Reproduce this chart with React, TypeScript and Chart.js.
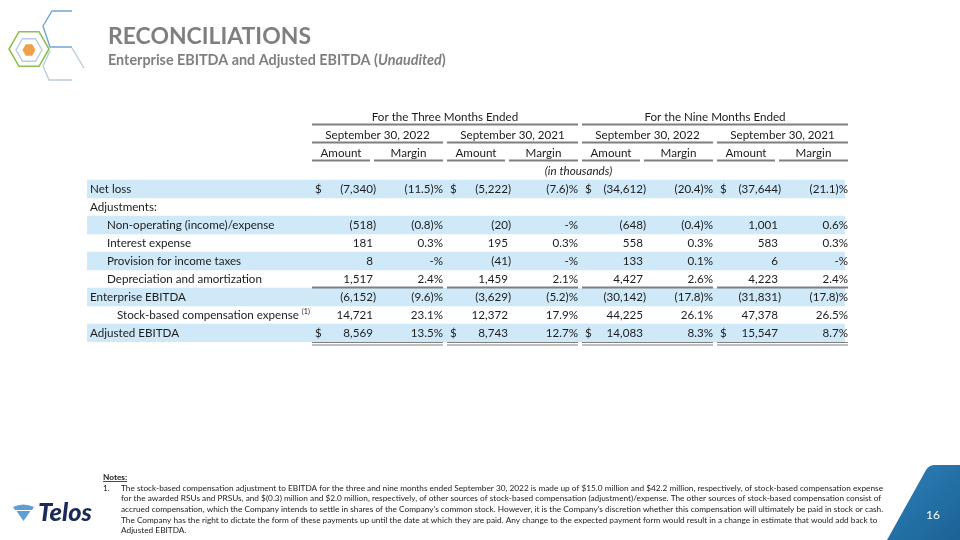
import { useEffect, useRef } from "react";
import { Chart, registerables } from "chart.js";

Chart.register(...registerables);

// ---------- DATA ----------
const TITLE = "RECONCILIATIONS";
const SUBTITLE_MAIN = "Enterprise EBITDA and Adjusted EBITDA (";
const SUBTITLE_ITALIC = "Unaudited";
const SUBTITLE_END = ")";
const PERIOD_HEADERS = ["For the Three Months Ended", "For the Nine Months Ended"];
const DATE_HEADERS = ["September 30, 2022", "September 30, 2021", "September 30, 2022", "September 30, 2021"];
const SUB_HEADERS = ["Amount", "Margin"];
const UNIT_NOTE = "(in thousands)";
const HEADER_ROWS = ["period", "date", "sub", "unit"];
const LINE_ITEMS = [
  "Net loss",
  "Adjustments:",
  "Non-operating (income)/expense",
  "Interest expense",
  "Provision for income taxes",
  "Depreciation and amortization",
  "Enterprise EBITDA",
  "Stock-based compensation expense",
  "Adjusted EBITDA",
];
const FOOTNOTE_MARK = "(1)";
const FOOTNOTE_ROW = 7;
const DOLLAR_ROWS = [0, 8];

// amounts in thousands, margins in percent (null = blank)
const AMT_3M_2022 = [-7340, null, -518, 181, 8, 1517, -6152, 14721, 8569];
const MRG_3M_2022 = [-11.5, null, -0.8, 0.3, 0, 2.4, -9.6, 23.1, 13.5];
const AMT_3M_2021 = [-5222, null, -20, 195, -41, 1459, -3629, 12372, 8743];
const MRG_3M_2021 = [-7.6, null, 0, 0.3, 0, 2.1, -5.2, 17.9, 12.7];
const AMT_9M_2022 = [-34612, null, -648, 558, 133, 4427, -30142, 44225, 14083];
const MRG_9M_2022 = [-20.4, null, -0.4, 0.3, 0.1, 2.6, -17.8, 26.1, 8.3];
const AMT_9M_2021 = [-37644, null, 1001, 583, 6, 4223, -31831, 47378, 15547];
const MRG_9M_2021 = [-21.1, null, 0.6, 0.3, 0, 2.4, -17.8, 26.5, 8.7];

const NOTES_TITLE = "Notes:";
const NOTE_LINES = [
  "The stock-based compensation adjustment to EBITDA for the three and nine months ended September 30, 2022 is made up of $15.0 million and $42.2 million, respectively, of stock-based compensation expense",
  "for the awarded RSUs and PRSUs, and $(0.3) million and $2.0 million, respectively, of other sources of stock-based compensation (adjustment)/expense. The other sources of stock-based compensation consist of",
  "accrued compensation, which the Company intends to settle in shares of the Company's common stock. However, it is the Company's discretion whether this compensation will ultimately be paid in stock or cash.",
  "The Company has the right to dictate the form of these payments up until the date at which they are paid. Any change to the expected payment form would result in a change in estimate that would add back to",
  "Adjusted EBITDA.",
];
const BRAND = "Telos";
const PAGE_NUMBER = "16";

// ---------- LAYOUT / STYLE ----------
const FONT = "Lato, 'Open Sans', sans-serif";
const TABLE_W = 758;
const GROUP_STARTS = [225, 360, 495, 630];
const GROUP_W = 131;
const INDENT = [0, 0, 1, 1, 1, 1, 0, 2, 0];
const SHADED = [true, false, true, false, true, false, true, false, true];
const BAND = "#cfe9f9";
const RULE = "#7f7f7f";
const TEXT = "#1c1c1c";

const fmtAmt = (v: number) => {
  const s = Math.abs(v).toLocaleString("en-US");
  return v < 0 ? `(${s})` : s;
};
const fmtMrg = (v: number) => {
  if (v === 0) return "-%";
  const s = Math.abs(v).toFixed(1);
  return v < 0 ? `(${s})%` : `${s}%`;
};

const fitSize = (ctx: CanvasRenderingContext2D, text: string, pre: string, target: number) => {
  ctx.font = `${pre} 20px ${FONT}`;
  const w = ctx.measureText(text).width;
  return (20 * target) / w;
};

const slidePlugin = {
  id: "slide",
  afterDatasetsDraw(chart: any) {
    const ctx: CanvasRenderingContext2D = chart.ctx;
    const xs = chart.scales.x;
    const ys = chart.scales.y;
    const X = (u: number) => xs.getPixelForValue(u);
    const Y = (i: number) => ys.getPixelForValue(i);
    const rowH = Y(1) - Y(0);
    const bottom = (i: number) => Y(i) + rowH / 2;
    const groups = [AMT_3M_2022, AMT_3M_2021, AMT_9M_2022, AMT_9M_2021];
    const margins = [MRG_3M_2022, MRG_3M_2021, MRG_9M_2022, MRG_9M_2021];

    ctx.save();
    // ----- top-left logo -----
    const hex = (cx: number, cy: number, r: number) => {
      ctx.beginPath();
      for (let k = 0; k < 6; k++) {
        const a = (Math.PI / 3) * k;
        const px = cx + r * Math.cos(a);
        const py = cy + r * Math.sin(a);
        if (k === 0) ctx.moveTo(px, py);
        else ctx.lineTo(px, py);
      }
      ctx.closePath();
    };
    ctx.lineWidth = 1.6;
    ctx.strokeStyle = "#8cc04f";
    hex(29, 49, 20);
    ctx.stroke();
    ctx.strokeStyle = "#b9cbdd";
    ctx.lineWidth = 1.4;
    hex(29, 50, 13);
    ctx.stroke();
    ctx.fillStyle = "#f0a04b";
    hex(29, 50, 6.5);
    ctx.fill();
    ctx.strokeStyle = "#6fa6d6";
    ctx.lineWidth = 1.4;
    ctx.beginPath();
    ctx.moveTo(72, 11);
    ctx.lineTo(52, 11);
    ctx.lineTo(43, 26);
    ctx.lineTo(50, 47);
    ctx.lineTo(72, 47);
    ctx.stroke();
    ctx.strokeStyle = "#b9cbdd";
    ctx.beginPath();
    ctx.moveTo(72, 48);
    ctx.lineTo(84, 68);
    ctx.stroke();
    ctx.beginPath();
    ctx.moveTo(50, 51);
    ctx.lineTo(43, 66);
    ctx.lineTo(49, 80);
    ctx.lineTo(72, 80);
    ctx.stroke();

    // ----- title -----
    ctx.fillStyle = "#7f7f7f";
    ctx.textBaseline = "alphabetic";
    ctx.textAlign = "left";
    const ts = fitSize(ctx, TITLE, "bold", 203);
    ctx.font = `bold ${ts}px ${FONT}`;
    ctx.fillText(TITLE, 108, 44);
    const full = SUBTITLE_MAIN + SUBTITLE_ITALIC + SUBTITLE_END;
    const ss = fitSize(ctx, full, "bold", 341);
    let sx = 108;
    ctx.font = `bold ${ss}px ${FONT}`;
    ctx.fillText(SUBTITLE_MAIN, sx, 65);
    sx += ctx.measureText(SUBTITLE_MAIN).width;
    ctx.font = `italic bold ${ss}px ${FONT}`;
    ctx.fillText(SUBTITLE_ITALIC, sx, 65);
    sx += ctx.measureText(SUBTITLE_ITALIC).width;
    ctx.font = `bold ${ss}px ${FONT}`;
    ctx.fillText(SUBTITLE_END, sx, 65);

    // ----- table -----
    const fs = fitSize(ctx, "Depreciation and amortization", "", 155);
    const font = `${fs}px ${FONT}`;
    ctx.fillStyle = TEXT;
    ctx.textBaseline = "middle";
    ctx.font = font;

    // header rows
    const rule = (u0: number, u1: number, y: number) => {
      ctx.strokeStyle = RULE;
      ctx.lineWidth = 2;
      ctx.beginPath();
      ctx.moveTo(X(u0), y);
      ctx.lineTo(X(u1), y);
      ctx.stroke();
    };
    ctx.textAlign = "center";
    PERIOD_HEADERS.forEach((t, p) => {
      const u0 = GROUP_STARTS[p * 2];
      const u1 = GROUP_STARTS[p * 2 + 1] + GROUP_W;
      ctx.fillText(t, (X(u0) + X(u1)) / 2, Y(0));
      rule(u0, u1, bottom(0) - 1.5);
    });
    DATE_HEADERS.forEach((t, g) => {
      const u0 = GROUP_STARTS[g];
      ctx.fillText(t, (X(u0) + X(u0 + GROUP_W)) / 2, Y(1));
      rule(u0, u0 + GROUP_W, bottom(1) - 1.5);
      const spans = [
        [u0, u0 + 58],
        [u0 + 62, u0 + GROUP_W],
      ];
      SUB_HEADERS.forEach((s, k) => {
        const [a, b] = spans[k];
        ctx.fillText(s, (X(a) + X(b)) / 2, Y(2));
        rule(a, b, bottom(2) - 1.5);
      });
    });
    ctx.font = `italic ${fs}px ${FONT}`;
    ctx.fillText(UNIT_NOTE, (X(GROUP_STARTS[0]) + X(TABLE_W)) / 2, Y(3));

    // line items
    const base = HEADER_ROWS.length;
    LINE_ITEMS.forEach((label, r) => {
      const y = Y(base + r);
      ctx.font = font;
      ctx.textAlign = "left";
      const lx = X(3 + INDENT[r] * 17 + (INDENT[r] === 2 ? -7 : 0));
      ctx.fillText(label, lx, y);
      if (r === FOOTNOTE_ROW) {
        const w = ctx.measureText(label + " ").width;
        ctx.font = `${fs * 0.62}px ${FONT}`;
        ctx.fillText(FOOTNOTE_MARK, lx + w, y - 3);
        ctx.font = font;
      }
      const parenW = ctx.measureText(")").width;
      groups.forEach((arr, g) => {
        const g0 = GROUP_STARTS[g];
        const v = arr[r];
        if (v !== null && v !== undefined) {
          ctx.textAlign = "right";
          const rx = X(g0 + 64) - (v < 0 ? 0 : parenW);
          ctx.fillText(fmtAmt(v), rx, y);
        }
        const m = margins[g][r];
        if (m !== null && m !== undefined) {
          ctx.textAlign = "right";
          ctx.fillText(fmtMrg(m), X(g0 + GROUP_W), y);
        }
        if (DOLLAR_ROWS.includes(r)) {
          ctx.textAlign = "left";
          ctx.fillText("$", X(g0 + 3), y);
        }
      });
    });

    // rules under depreciation and adjusted EBITDA
    GROUP_STARTS.forEach((g0) => {
      rule(g0, g0 + GROUP_W, bottom(base + 5) - 0.5);
      ctx.lineWidth = 1;
      ctx.strokeStyle = RULE;
      ctx.beginPath();
      ctx.moveTo(X(g0), bottom(base + 8) + 0.5);
      ctx.lineTo(X(g0 + GROUP_W), bottom(base + 8) + 0.5);
      ctx.moveTo(X(g0), bottom(base + 8) + 3);
      ctx.lineTo(X(g0 + GROUP_W), bottom(base + 8) + 3);
      ctx.stroke();
    });

    // ----- notes -----
    const ns = fitSize(ctx, NOTE_LINES[0], "", 763);
    ctx.textAlign = "left";
    ctx.textBaseline = "middle";
    ctx.fillStyle = TEXT;
    ctx.font = `bold ${ns}px ${FONT}`;
    ctx.fillText(NOTES_TITLE, 103, 477);
    const nw = ctx.measureText(NOTES_TITLE).width;
    ctx.fillRect(103, 481, nw, 0.8);
    ctx.font = `${ns}px ${FONT}`;
    ctx.fillText("1.", 103, 488);
    const noteYs = [488, 498.7, 509.4, 520, 530.6];
    NOTE_LINES.forEach((t, i) => ctx.fillText(t, 121, noteYs[i]));

    // ----- Telos logo -----
    ctx.fillStyle = "#5d9fd4";
    ctx.beginPath();
    ctx.moveTo(13, 507);
    ctx.quadraticCurveTo(23, 502, 34, 507);
    ctx.lineTo(32, 510);
    ctx.lineTo(15, 510);
    ctx.closePath();
    ctx.fill();
    ctx.beginPath();
    ctx.moveTo(16.5, 511);
    ctx.lineTo(30.5, 511);
    ctx.lineTo(23.5, 521);
    ctx.closePath();
    ctx.fill();
    ctx.fillStyle = "#1c2a5a";
    const bs = fitSize(ctx, BRAND, "italic 900", 54);
    ctx.font = `italic 900 ${bs}px ${FONT}`;
    ctx.textBaseline = "alphabetic";
    ctx.fillText(BRAND, 38, 521);

    // ----- page number shape -----
    const grad = ctx.createLinearGradient(890, 465, 960, 540);
    grad.addColorStop(0, "#2d80b8");
    grad.addColorStop(1, "#1b6296");
    ctx.fillStyle = grad;
    ctx.beginPath();
    ctx.moveTo(887, 540);
    ctx.lineTo(926, 470);
    ctx.quadraticCurveTo(929, 465, 935, 465);
    ctx.lineTo(960, 465);
    ctx.lineTo(960, 540);
    ctx.closePath();
    ctx.fill();
    ctx.fillStyle = "#ffffff";
    ctx.font = `12px ${FONT}`;
    ctx.textAlign = "center";
    ctx.textBaseline = "middle";
    ctx.fillText(PAGE_NUMBER, 933, 515);
    ctx.restore();
  },
};

export default function App() {
  const ref = useRef<HTMLCanvasElement>(null);
  useEffect(() => {
    if (!ref.current) return;
    const labels = [...HEADER_ROWS, ...LINE_ITEMS];
    const chart = new Chart(ref.current, {
      type: "bar",
      data: {
        labels,
        datasets: [
          {
            data: labels.map((_, i) =>
              i >= HEADER_ROWS.length && SHADED[i - HEADER_ROWS.length] ? [0, TABLE_W] : null
            ) as any,
            backgroundColor: BAND,
            borderWidth: 0,
            barPercentage: 1,
            categoryPercentage: 1,
          },
        ],
      },
      options: {
        indexAxis: "y",
        animation: false,
        responsive: true,
        maintainAspectRatio: false,
        events: [],
        layout: { padding: { left: 87, right: 115, top: 108, bottom: 198 } },
        scales: {
          x: { type: "linear", min: 0, max: TABLE_W, display: false },
          y: { type: "category", display: false, offset: true },
        },
        plugins: { legend: { display: false }, tooltip: { enabled: false }, title: { display: false } },
      },
      plugins: [slidePlugin],
    });
    return () => chart.destroy();
  }, []);
  return (
    <div style={{ position: "fixed", left: 0, top: 0, width: 960, height: 540, background: "#ffffff" }}>
      <canvas ref={ref} />
    </div>
  );
}
